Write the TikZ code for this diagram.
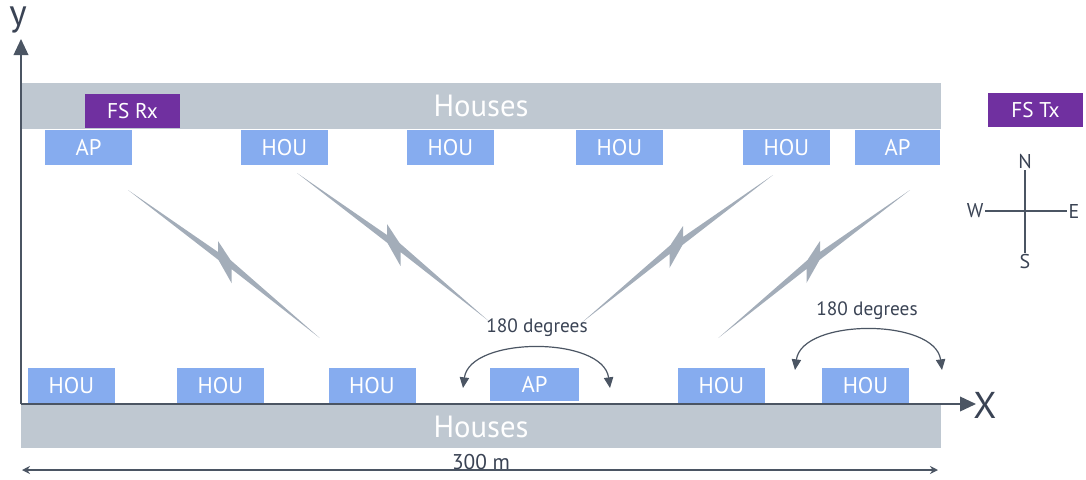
\documentclass[tikz,border=0pt]{standalone}
\usepackage{fontspec}
\setmainfont{PT Sans}
\usetikzlibrary{arrows.meta}
\definecolor{boxblue}{HTML}{86ACEF}
\definecolor{bargray}{HTML}{BFC8D1}
\definecolor{fspurple}{HTML}{7030A0}
\definecolor{axisgray}{HTML}{4B5563}
\definecolor{boltgray}{HTML}{A3ADB9}
\definecolor{txtdark}{HTML}{3A4354}
\tikzset{
  bolt/.pic={\fill[boltgray] (0,0) -- (90,62) -- (90,51) -- (102.5,70) -- (191.7,148) -- (103.5,79) -- (103.5,93) -- (90.5,70) -- cycle;}
}
\begin{document}
\begin{tikzpicture}[x=0.75pt,y=-0.75pt,
  hbox/.style={fill=boxblue, text=white, minimum width=65.25pt, minimum height=26.25pt, inner sep=0pt, font=\fontsize{17}{19}\selectfont},
  bar/.style={fill=bargray, text=white, minimum width=690pt, inner sep=0pt, font=\fontsize{23}{25}\selectfont},
  fsbox/.style={fill=fspurple, text=white, minimum width=71.25pt, minimum height=25.5pt, inner sep=0pt, font=\fontsize{16}{18}\selectfont},
  axline/.style={draw=axisgray, line width=1.2pt, -{Triangle[length=12pt,width=11pt]}},
  curv/.style={draw=axisgray, line width=0.9pt, {Triangle[length=8pt,width=7pt]}-{Triangle[length=8pt,width=7pt]}},
  dimline/.style={draw=axisgray, line width=0.9pt, {Stealth[length=6pt,width=6pt]}-{Stealth[length=6pt,width=6pt]}},
  lbl/.style={text=txtdark, inner sep=1pt, font=\fontsize{14.5}{16}\selectfont},
  cmp/.style={text=txtdark, inner sep=1pt, font=\fontsize{15}{17}\selectfont},
  axlbl/.style={text=txtdark, inner sep=0pt, font=\fontsize{28}{30}\selectfont}
]
\useasboundingbox (0,0) rectangle (1086,479);

% house bars
\node[bar, minimum height=34.5pt] (topbar) at (481,106) {Houses};
\node[bar, minimum height=32.25pt] (botbar) at (481,426.5) {Houses};

% FS boxes
\node[fsbox] (fsrx) at (132.5,111) {FS Rx};
\node[fsbox] (fstx) at (1035.5,110) {FS Tx};

% top row
\node[hbox] (tap1) at (88.5,147.5) {AP};
\node[hbox] (th1) at (284.5,147.5) {HOU};
\node[hbox] (th2) at (450.5,147.5) {HOU};
\node[hbox] (th3) at (619.5,147.5) {HOU};
\node[hbox] (th4) at (786.5,147.5) {HOU};
\node[hbox, minimum width=63.75pt] (tap2) at (897.5,147.5) {AP};

% bottom row
\node[hbox] (bh1) at (71.5,385.5) {HOU};
\node[hbox] (bh2) at (220.5,385.5) {HOU};
\node[hbox] (bh3) at (372,385.5) {HOU};
\node[hbox, minimum width=66.75pt, minimum height=24.75pt] (bap) at (534.5,384.5) {AP};
\node[hbox] (bh4) at (721.5,385.5) {HOU};
\node[hbox] (bh5) at (865.5,385.5) {HOU};

% axes
\coordinate (O) at (21,404);
\coordinate (ytip) at (21,39);
\coordinate (xtip) at (976,404);
\draw[axline] (O) -- (ytip);
\draw[axline] (O) -- (xtip);
\node[axlbl] (ylab) at (18,20) {y};
\node[axlbl] (xlab) at (985,405) {X};

% lightning bolts
\pic at (128,190) {bolt};
\pic at (297,173) {bolt};
\pic[xscale=-1] at (773,175) {bolt};
\pic[xscale=-1] at (910,190) {bolt};

% rotation arrows
\coordinate (a1l) at (463,388);
\coordinate (a1r) at (610,388);
\draw[curv] (a1l) .. controls (470,336) and (603,336) .. (a1r);
\node[lbl] (deg1) at (537,328) {180 degrees};
\coordinate (a2l) at (795,370);
\coordinate (a2r) at (942,370);
\draw[curv] (a2l) .. controls (802,318) and (935,318) .. (a2r);
\node[lbl] (deg2) at (867,311) {180 degrees};

% dimension
\coordinate (dl) at (22,470);
\coordinate (dr) at (938,470);
\draw[dimline] (dl) -- (dr);
\node[text=txtdark, inner sep=0pt, font=\fontsize{16}{18}\selectfont] (dim) at (481,462) {300 m};

% compass
\node[cmp, anchor=south] (cN) at (1025,170) {N};
\node[cmp, anchor=north] (cS) at (1025,253) {S};
\node[cmp, anchor=east] (cW) at (985,211) {W};
\node[cmp, anchor=west] (cE) at (1067,211) {E};
\draw[axisgray, line width=0.8pt] (cN.south) -- (cS.north);
\draw[axisgray, line width=0.8pt] (cW.east) -- (cE.west);
\end{tikzpicture}
\end{document}
